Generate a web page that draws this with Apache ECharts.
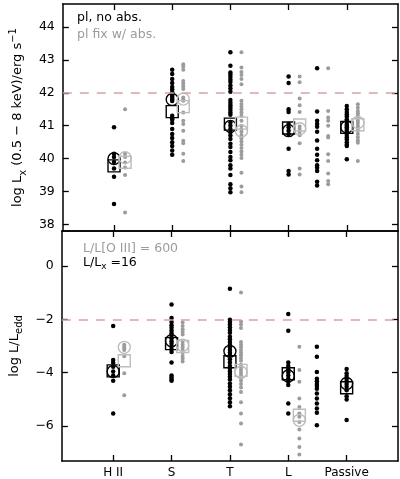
<!DOCTYPE html>
<html><head><meta charset="utf-8">
<script src="https://cdn.jsdelivr.net/npm/echarts@6/dist/echarts.min.js"></script>
<style>html,body{margin:0;padding:0;background:#fff}#c{width:400px;height:479px}</style>
</head><body><div id="c"></div>
<script>
// ---------- data ----------
const categories = ['H II', 'S', 'T', 'L', 'Passive'];
const topYTicks = [38, 39, 40, 41, 42, 43, 44];
const bottomYTicks = [-6, -4, -2, 0];
const lxLimit = 42;
const eddLimit = -2;

// Top panel: log Lx, "pl, no abs." (black)
const lxNoAbsHII = [40.95, 40.15, 40.05, 39.9, 39.7, 39.45, 38.62];
const lxNoAbsS = [42.7, 42.57, 42.42, 42.3, 42.18, 42.1, 42.02, 41.95, 41.9, 41.85, 41.8, 41.75, 41.3, 41.22, 41.18, 41.08, 40.9, 40.75, 40.63, 40.5, 40.38, 40.25, 40.12];
const lxNoAbsT = [43.23, 42.82, 42.62, 42.55, 42.48, 42.4, 42.33, 42.22, 42.13, 42.03, 41.78, 41.7, 41.62, 41.55, 41.48, 41.4, 41.33, 41.1, 41.0, 40.9, 40.8, 40.7, 40.6, 40.45, 40.35, 40.2, 40.05, 39.95, 39.8, 39.7, 39.5, 39.22, 39.1, 38.98];
const lxNoAbsL = [42.5, 42.3, 41.5, 41.42, 41.05, 40.95, 40.85, 40.74, 40.3, 39.62, 39.52];
const lxNoAbsL2 = [42.75, 41.43, 41.15, 41.05, 40.97, 40.82, 40.55, 40.3, 40.12, 39.95, 39.8, 39.72, 39.62, 39.3, 39.18];
const lxNoAbsPassive = [41.6, 41.5, 41.42, 41.35, 41.28, 41.2, 41.12, 41.05, 41.0, 40.95, 40.9, 40.85, 40.8, 40.72, 40.65, 40.58, 40.5, 40.42, 40.38, 39.98];

// Top panel: log Lx, "pl fix w/ abs." (grey)
const lxAbsHII = [41.5, 40.15, 40.05, 39.88, 39.73, 39.5, 38.36];
const lxAbsS = [42.87, 42.8, 42.7, 42.36, 42.28, 42.2, 42.12, 41.86, 41.8, 41.76, 41.4, 41.15, 41.05, 40.85, 40.54, 40.47, 40.15, 39.93];
const lxAbsT = [43.23, 42.77, 42.63, 42.54, 42.42, 42.26, 41.76, 41.66, 41.58, 41.5, 41.4, 41.3, 41.15, 41.0, 40.9, 40.82, 40.72, 40.62, 40.52, 40.42, 40.32, 40.22, 40.12, 40.02, 39.57, 39.15, 38.98];
const lxAbsL = [42.5, 42.32, 41.83, 41.62, 41.42, 40.98, 40.9, 40.81, 40.71, 40.47, 39.7, 39.52];
const lxAbsL2 = [42.75, 41.45, 41.25, 41.15, 41.0, 40.69, 40.64, 40.13, 39.93, 39.55, 39.32, 39.22];
const lxAbsPassive = [41.65, 41.55, 41.45, 41.38, 41.3, 41.22, 41.15, 41.08, 41.0, 40.92, 40.85, 40.75, 40.65, 40.55, 40.48, 39.93];

// Bottom panel: log L/Ledd with L/Lx = 16 (black)
const eddXHII = [-2.25, -3.52, -3.63, -3.78, -3.95, -4.1, -4.3, -5.52];
const eddXS = [-1.45, -1.95, -2.1, -2.22, -2.32, -2.42, -2.52, -2.62, -2.72, -2.82, -2.92, -3.02, -3.12, -3.22, -3.62, -4.1, -4.18, -4.25, -4.3];
const eddXT = [-0.86, -2.02, -2.1, -2.2, -2.3, -2.4, -2.5, -2.65, -2.75, -2.85, -2.95, -3.05, -3.15, -3.25, -3.35, -3.5, -3.62, -3.75, -3.85, -3.95, -4.05, -4.15, -4.25, -4.4, -4.52, -4.65, -4.8, -4.95, -5.1, -5.25];
const eddXL = [-1.8, -2.43, -3.62, -3.75, -3.87, -3.98, -4.1, -4.22, -4.34, -4.46, -5.15, -5.52];
const eddXL2 = [-3.03, -3.4, -3.97, -4.22, -4.32, -4.42, -4.5, -4.6, -4.78, -4.96, -5.15, -5.34, -5.5, -5.96];
const eddXPassive = [-3.86, -4.02, -4.12, -4.22, -4.32, -4.42, -4.52, -4.65, -4.88, -5.0, -5.77];

// Bottom panel: log L/Ledd with L/L[O III] = 600 (grey)
const eddOHII = [-2.95, -3.02, -3.08, -3.15, -3.38, -4.02, -4.84];
const eddOS = [-2.12, -2.25, -2.37, -2.47, -2.57, -2.85, -2.95, -3.05, -3.15, -3.25, -3.37, -3.47, -3.58];
const eddOT = [-1.0, -2.08, -2.2, -2.33, -2.85, -2.95, -3.05, -3.15, -3.25, -3.35, -3.45, -3.55, -3.7, -3.8, -3.9, -4.0, -4.1, -4.2, -4.3, -4.42, -4.55, -4.72, -5.1, -5.52, -5.9, -6.68];
const eddOL = [-3.03, -3.9, -4.34, -4.96, -5.28, -5.52, -5.65, -5.84, -6.12, -6.46, -6.78, -7.06];

// Means (squares) and medians (circles), per category H II, S, T, L, Passive
const lxNoAbsMean = [39.78, 41.43, 41.05, 40.93, 40.95];
const lxNoAbsMedian = [40.0, 41.8, 40.98, 40.85, 40.96];
const lxAbsMean = [39.89, 41.58, 41.08, 41.02, 41.03];
const lxAbsMedian = [40.03, 41.81, 40.84, 40.91, 41.1];
const eddXMean = [-3.93, -2.91, -3.59, -4.04, -4.56];
const eddXMedian = [-3.95, -2.8, -3.2, -4.12, -4.4];
const eddOMean = [-3.55, -3.02, -3.91, -5.59];
const eddOMedian = [-3.05, -2.97, -3.98, -5.78];

// ---------- layout ----------
const GREY_OFF = 0.19;      // grey column offset from category tick
const L2_POS = 4.49;        // second L column position
const BLACK = '#000';
const GREY = '#9c9c9c';
const GREY_SYM = '#bdbdbd';
const FONT = 'DejaVu Sans';

function col(values, x) { return values.map(v => [x, v]); }

function dotSeries(data, panel, color, size) {
  return {
    type: 'scatter', xAxisIndex: panel * 2, yAxisIndex: panel * 2,
    data: data, symbol: 'circle', symbolSize: size, silent: true, z: 2,
    itemStyle: { color: color, opacity: 1 }
  };
}
function symSeries(vals, offset, panel, color, symbol) {
  const data = vals.map((v, i) => [i + 1 + offset, v]);
  return {
    type: 'scatter', xAxisIndex: panel * 2, yAxisIndex: panel * 2,
    data: data, symbol: symbol, symbolSize: symbol === 'rect' ? [12, 12] : 12,
    silent: true, z: 4,
    itemStyle: { color: 'rgba(0,0,0,0)', borderColor: color, borderWidth: 1.4, opacity: 1 }
  };
}

const topBlackData = [].concat(
  col(lxNoAbsHII, 1), col(lxNoAbsS, 2), col(lxNoAbsT, 3), col(lxNoAbsL, 4), col(lxNoAbsL2, L2_POS), col(lxNoAbsPassive, 5));
const topGreyData = [].concat(
  col(lxAbsHII, 1 + GREY_OFF), col(lxAbsS, 2 + GREY_OFF), col(lxAbsT, 3 + GREY_OFF), col(lxAbsL, 4 + GREY_OFF), col(lxAbsL2, L2_POS + GREY_OFF), col(lxAbsPassive, 5 + GREY_OFF));
const botBlackData = [].concat(
  col(eddXHII, 1), col(eddXS, 2), col(eddXT, 3), col(eddXL, 4), col(eddXL2, L2_POS), col(eddXPassive, 5));
const botGreyData = [].concat(
  col(eddOHII, 1 + GREY_OFF), col(eddOS, 2 + GREY_OFF), col(eddOT, 3 + GREY_OFF), col(eddOL, 4 + GREY_OFF));

const axisLine = { show: true, onZero: false, lineStyle: { color: BLACK, width: 1.5 } };
function xAx(grid, pos, labels) {
  return {
    type: 'value', gridIndex: grid, position: pos, min: 0.12, max: 5.88,
    axisLine: axisLine, splitLine: { show: false },
    axisTick: { show: true, inside: true, length: 6, customValues: [1, 2, 3, 4, 5], lineStyle: { color: BLACK, width: 1.3 } },
    axisLabel: labels ? {
      show: true, customValues: [1, 2, 3, 4, 5], margin: 6,
      formatter: v => categories[Math.round(v) - 1], color: BLACK, fontFamily: FONT, fontSize: 12
    } : { show: false }
  };
}
function yAx(grid, pos, min, max, ticks, labels, name, gap) {
  return {
    type: 'value', gridIndex: grid, position: pos, min: min, max: max,
    axisLine: axisLine, splitLine: { show: false },
    axisTick: { show: true, inside: true, length: 6, customValues: ticks, lineStyle: { color: BLACK, width: 1.3 } },
    axisLabel: labels ? {
      show: true, customValues: ticks, margin: 8,
      formatter: v => String(v).replace('-', '\u2212'), color: BLACK, fontFamily: FONT, fontSize: 12.5
    } : { show: false },
    name: name || '', nameLocation: 'middle', nameRotate: 90, nameGap: gap || 0,
    nameTextStyle: {
      color: BLACK, fontFamily: FONT, fontSize: 13,
      rich: {
        n: { fontFamily: FONT, fontSize: 13, color: BLACK, lineHeight: 20, verticalAlign: 'middle' },
        sub: { fontFamily: FONT, fontSize: 10, color: BLACK, lineHeight: 9, verticalAlign: 'bottom' },
        sup: { fontFamily: FONT, fontSize: 10, color: BLACK, lineHeight: 9, verticalAlign: 'top' }
      }
    }
  };
}

const limitLine = (v) => ({
  silent: true, symbol: 'none', label: { show: false },
  lineStyle: { color: '#d9a3a3', type: [9, 8], width: 1.5 },
  data: [{ yAxis: v }]
});

const option = {
  animation: false,
  backgroundColor: '#fff',
  grid: [
    { left: 53, top: 4, width: 345, height: 227 },
    { left: 53, top: 231, width: 345, height: 230 }
  ],
  xAxis: [xAx(0, 'bottom', false), xAx(0, 'top', false), xAx(1, 'bottom', true), xAx(1, 'top', false)],
  yAxis: [
    yAx(0, 'left', 37.8, 44.7, topYTicks, true, '{n|log L}{sub|x}{n| (0.5 \u2212 8 keV)/erg s}{sup|\u22121}', 28),
    yAx(0, 'right', 37.8, 44.7, topYTicks, false),
    yAx(1, 'left', -7.3, 1.3, bottomYTicks, true, '{n|log L/L}{sub|edd}', 30),
    yAx(1, 'right', -7.3, 1.3, bottomYTicks, false)
  ],
  series: [
    Object.assign(dotSeries(topBlackData, 0, BLACK, 4.5), { markLine: limitLine(lxLimit) }),
    dotSeries(topGreyData, 0, GREY, 4),
    symSeries(lxNoAbsMean, 0, 0, BLACK, 'rect'),
    symSeries(lxNoAbsMedian, 0, 0, BLACK, 'circle'),
    symSeries(lxAbsMean, GREY_OFF, 0, GREY_SYM, 'rect'),
    symSeries(lxAbsMedian, GREY_OFF, 0, GREY_SYM, 'circle'),
    Object.assign(dotSeries(botBlackData, 1, BLACK, 4.5), { markLine: limitLine(eddLimit) }),
    dotSeries(botGreyData, 1, GREY, 4),
    symSeries(eddXMean, 0, 1, BLACK, 'rect'),
    symSeries(eddXMedian, 0, 1, BLACK, 'circle'),
    symSeries(eddOMean, GREY_OFF, 1, GREY_SYM, 'rect'),
    symSeries(eddOMedian, GREY_OFF, 1, GREY_SYM, 'circle')
  ],
  graphic: [
    { type: 'text', left: 77, top: 11, style: { text: 'pl, no abs.', fill: BLACK, font: '12.5px "DejaVu Sans"' } },
    { type: 'text', left: 77, top: 28, style: { text: 'pl fix w/ abs.', fill: GREY, font: '12.5px "DejaVu Sans"' } },
    { type: 'text', left: 83, top: 242, style: { text: 'L/L[O III] = 600', fill: GREY, font: '12.5px "DejaVu Sans"' } },
    { type: 'text', left: 83, top: 256, style: {
        text: '{n|L/L}{sub|x}{n| =16}',
        rich: {
          n: { fill: BLACK, font: '12.5px "DejaVu Sans"', lineHeight: 18, verticalAlign: 'middle' },
          sub: { fill: BLACK, font: '9px "DejaVu Sans"', lineHeight: 9, verticalAlign: 'bottom' }
        } } }
  ]
};

const chart = echarts.init(document.getElementById('c'), null, { renderer: 'canvas' });
chart.setOption(option);
</script>
</body></html>
